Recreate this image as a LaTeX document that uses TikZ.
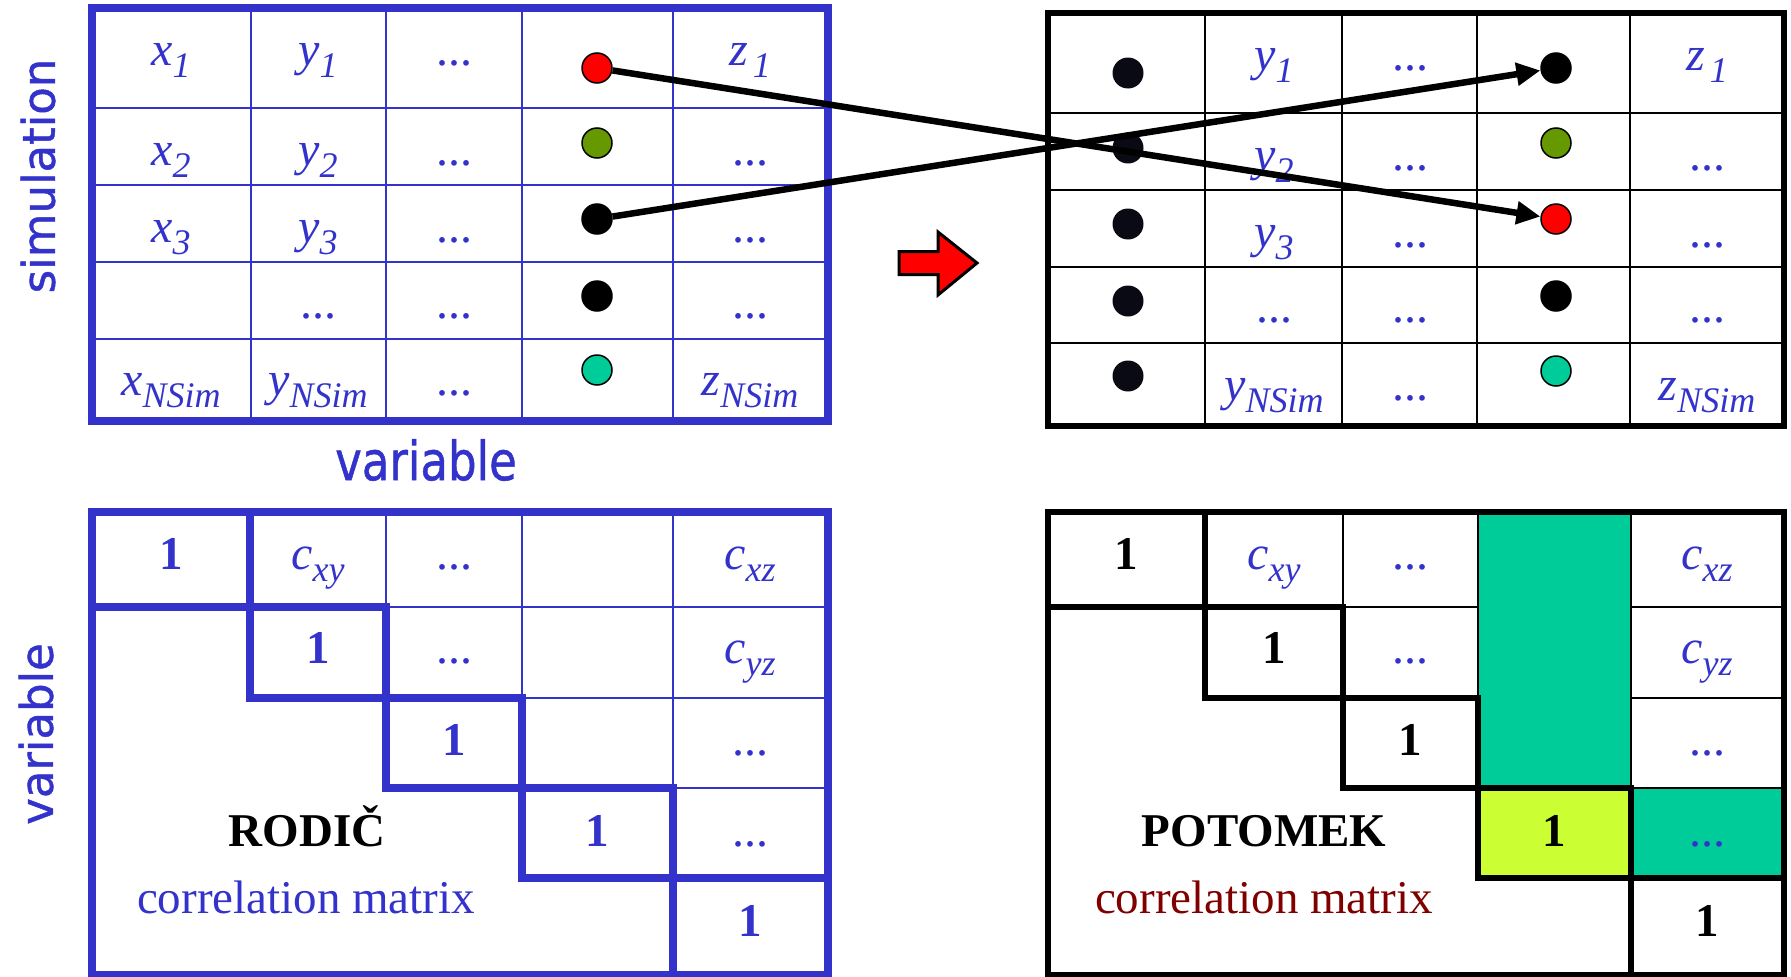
\documentclass[tikz,border=0pt]{standalone}
\usepackage{fontspec}
\setmainfont{Liberation Serif}
\newfontfamily\vsans[FakeBold=1]{DejaVu Sans}
\usetikzlibrary{arrows.meta}
\definecolor{tblue}{HTML}{3333CC}
\definecolor{tteal}{HTML}{00CC99}
\definecolor{tolive}{HTML}{669900}
\definecolor{tlime}{HTML}{CCFF33}
\definecolor{tdred}{HTML}{800000}
\definecolor{tdot}{HTML}{0A0A14}
\newcommand\sbs[1]{\raisebox{-12pt}{\fontsize{36}{36}\selectfont #1}}
\begin{document}
\begin{tikzpicture}[x=1pt,y=-1pt,
  bthin/.style={draw=tblue,line width=2pt},
  bthick/.style={draw=tblue,line width=7.5pt,line cap=rect,line join=miter},
  kthin/.style={draw=black,line width=2pt},
  kthick/.style={draw=black,line width=6.5pt,line cap=rect,line join=miter},
  vt/.style={anchor=base,inner sep=0pt,text=tblue,font=\fontsize{48}{56}\selectfont\itshape},
  dd/.style={anchor=base,inner sep=0pt,text=tblue,font=\fontsize{48}{56}\selectfont},
  one/.style={anchor=base,inner sep=0pt,font=\fontsize{47}{56}\selectfont\bfseries},
  lbl/.style={anchor=base,inner sep=0pt,font=\fontsize{47}{56}\selectfont},
  dot/.style={circle,minimum size=30pt,inner sep=0pt,draw=black,line width=1.5pt},
  kdot/.style={circle,minimum size=31pt,inner sep=0pt,fill=tdot},
  axis/.style={inner sep=0pt,text=tblue,font=\fontsize{45}{54}\selectfont\vsans},
  conn/.style={draw=black,line width=6.5pt,-{Triangle[length=24pt,width=22pt]}}
]
\useasboundingbox (0,0) rectangle (1791,977);

% ---------------- top-left table ----------------
\foreach \x in {251,386,522,673} \draw[bthin] (\x,8) -- (\x,421);
\foreach \y in {108,185,262,339} \draw[bthin] (92,\y) -- (828,\y);
\draw[bthick] (92,8) rectangle (828,421);

\node[vt] (tlx1) at (171,65) {x\sbs{1}};
\node[vt] (tlx2) at (171,165) {x\sbs{2}};
\node[vt] (tlx3) at (171,242) {x\sbs{3}};
\node[vt] (tlxn) at (171,395) {x\sbs{NSim}};
\node[vt] (tly1) at (318,65) {y\sbs{1}};
\node[vt] (tly2) at (318,165) {y\sbs{2}};
\node[vt] (tly3) at (318,242) {y\sbs{3}};
\node[dd] (tly4) at (318,318) {...};
\node[vt] (tlyn) at (318,395) {y\sbs{NSim}};
\node[dd] (tlc0) at (454,65) {...};
\node[dd] (tlc1) at (454,165) {...};
\node[dd] (tlc2) at (454,242) {...};
\node[dd] (tlc3) at (454,318) {...};
\node[dd] (tlc4) at (454,395) {...};
\node[vt] (tlz1) at (750,65) {z\hspace{5pt}\sbs{1}};
\node[dd] (tlz2) at (750,165) {...};
\node[dd] (tlz3) at (750,242) {...};
\node[dd] (tlz4) at (750,318) {...};
\node[vt] (tlzn) at (750,395) {z\sbs{NSim}};

\node[dot,fill=red]    (la) at (597,68) {};
\node[dot,fill=tolive] (lb) at (597,143) {};
\node[dot,fill=black]  (lc) at (597,219) {};
\node[dot,fill=black]  (ld) at (597,296) {};
\node[dot,fill=tteal]  (le) at (597,370) {};

\node[axis,rotate=90] (simlbl) at (38,176) {simulation};
\node[axis] (varlbl) at (426,460) {\scalebox{1}[1.2]{variable}};

% ---------------- red block arrow ----------------
\draw[fill=red,line width=3pt,line join=miter]
  (899,251.5) -- (938,251.5) -- (938,232) -- (977,263) -- (938,295) -- (938,274.5) -- (899,274.5) -- cycle;

% ---------------- top-right table ----------------
\foreach \x in {1205,1342,1477,1630} \draw[kthin] (\x,13) -- (\x,426);
\foreach \y in {113,190,267,343} \draw[kthin] (1048,\y) -- (1784,\y);
\draw[kthick] (1048,13) rectangle (1784,426);

\node[vt] (try1) at (1274,70) {y\sbs{1}};
\node[vt] (try2) at (1274,170) {y\sbs{2}};
\node[vt] (try3) at (1274,247) {y\sbs{3}};
\node[dd] (try4) at (1274,322) {...};
\node[vt] (tryn) at (1274,400) {y\sbs{NSim}};
\node[dd] (trc0) at (1410,70) {...};
\node[dd] (trc1) at (1410,170) {...};
\node[dd] (trc2) at (1410,247) {...};
\node[dd] (trc3) at (1410,322) {...};
\node[dd] (trc4) at (1410,400) {...};
\node[vt] (trz1) at (1707,70) {z\hspace{5pt}\sbs{1}};
\node[dd] (trz2) at (1707,170) {...};
\node[dd] (trz3) at (1707,247) {...};
\node[dd] (trz4) at (1707,322) {...};
\node[vt] (trzn) at (1707,400) {z\sbs{NSim}};

\node[kdot] (ka) at (1128,73) {};
\node[kdot] (kb) at (1128,148) {};
\node[kdot] (kc) at (1128,224) {};
\node[kdot] (kd) at (1128,301) {};
\node[kdot] (ke) at (1128,376) {};

\node[dot,fill=black]  (ra) at (1556,68) {};
\node[dot,fill=tolive] (rb) at (1556,143) {};
\node[dot,fill=red]    (rc) at (1556,219) {};
\node[dot,fill=black]  (rd) at (1556,296) {};
\node[dot,fill=tteal]  (re) at (1556,371) {};

\draw[conn] (la) -- (rc);
\draw[conn] (lc) -- (ra);

% ---------------- bottom-left matrix ----------------
\draw[bthin] (386,512) -- (386,607);
\draw[bthin] (522,512) -- (522,698);
\draw[bthin] (673,512) -- (673,788);
\draw[bthin] (386,607) -- (828,607);
\draw[bthin] (522,698) -- (828,698);
\draw[bthin] (673,788) -- (828,788);
\draw[bthick] (250,512) -- (250,698) -- (522,698) -- (522,878) -- (828,878);
\draw[bthick] (92,607) -- (386,607) -- (386,788) -- (673,788) -- (673,975);
\draw[bthick] (92,512) rectangle (828,975);

\node[one,text=tblue] (bl11) at (171,569) {1};
\node[vt] (blcxy) at (318,569) {c\sbs{xy}};
\node[dd] (bl13) at (454,569) {...};
\node[vt] (blcxz) at (750,569) {c\sbs{xz}};
\node[one,text=tblue] (bl22) at (318,663) {1};
\node[dd] (bl23) at (454,663) {...};
\node[vt] (blcyz) at (750,663) {c\sbs{yz}};
\node[one,text=tblue] (bl33) at (454,755) {1};
\node[dd] (bl35) at (750,755) {...};
\node[one,text=tblue] (bl44) at (597,846) {1};
\node[dd] (bl45) at (750,846) {...};
\node[one,text=tblue] (bl55) at (750,936) {1};
\node[one] (rodic) at (307,846) {RODIČ};
\node[lbl,text=tblue] (blcm) at (306,913) {correlation matrix};
\node[axis,rotate=90] (varlbl2) at (36,734) {variable};

% ---------------- bottom-right matrix ----------------
\fill[tteal] (1478,512) rectangle (1631,788);
\fill[tteal] (1631,788) rectangle (1784,878);
\fill[tlime] (1478,788) rectangle (1631,878);
\draw[kthin] (1343,512) -- (1343,607);
\draw[kthin] (1478,512) -- (1478,698);
\draw[kthin] (1631,512) -- (1631,788);
\draw[kthin] (1343,607) -- (1478,607);
\draw[kthin] (1631,607) -- (1784,607);
\draw[kthin] (1631,698) -- (1784,698);
\draw[kthin] (1631,788) -- (1784,788);
\draw[kthick] (1205,512) -- (1205,698) -- (1478,698) -- (1478,878) -- (1784,878);
\draw[kthick] (1048,607) -- (1343,607) -- (1343,788) -- (1631,788) -- (1631,975);
\draw[kthick] (1048,512) rectangle (1784,975);

\node[one] (br11) at (1126,569) {1};
\node[vt] (brcxy) at (1274,569) {c\sbs{xy}};
\node[dd] (br13) at (1410,569) {...};
\node[vt] (brcxz) at (1707,569) {c\sbs{xz}};
\node[one] (br22) at (1274,663) {1};
\node[dd] (br23) at (1410,663) {...};
\node[vt] (brcyz) at (1707,663) {c\sbs{yz}};
\node[one] (br33) at (1410,755) {1};
\node[dd] (br35) at (1707,755) {...};
\node[one] (br44) at (1554,846) {1};
\node[dd] (br45) at (1707,846) {...};
\node[one] (br55) at (1707,936) {1};
\node[one] (potomek) at (1264,846) {POTOMEK};
\node[lbl,text=tdred] (brcm) at (1264,913) {correlation matrix};
\end{tikzpicture}
\end{document}
